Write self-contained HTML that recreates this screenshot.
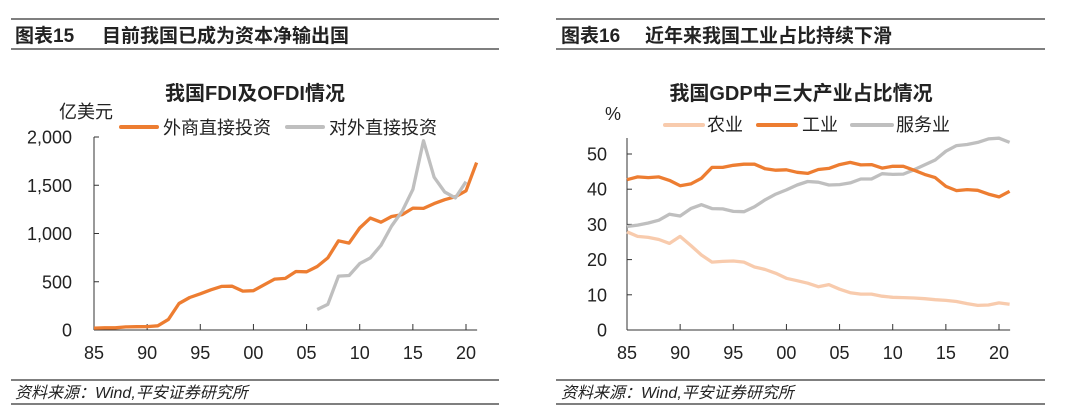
<!DOCTYPE html>
<html><head><meta charset="utf-8">
<style>
body{margin:0;width:1080px;height:417px;background:#fff;overflow:hidden}
svg{display:block}
text{font-family:"Liberation Sans","Noto Sans CJK SC",sans-serif;fill:#222}
</style></head>
<body>
<svg id="s" width="1080" height="417" viewBox="0 0 1080 417">
<g>
<line x1="11" y1="19" x2="499" y2="19" stroke="#555" stroke-width="1.5"/>
<line x1="11" y1="49" x2="499" y2="49" stroke="#555" stroke-width="1.5"/>
<text x="15" y="42" font-size="19" font-weight="bold">图表15</text>
<text x="102" y="42" font-size="19" font-weight="bold">目前我国已成为资本净输出国</text>
<text x="255" y="100" font-size="20" font-weight="bold" text-anchor="middle">我国FDI及OFDI情况</text>
<text x="113" y="118" font-size="18" text-anchor="end">亿美元</text>
<line x1="121" y1="127" x2="157" y2="127" stroke="#ED7D31" stroke-width="4" stroke-linecap="round"/>
<text x="163" y="134" font-size="18">外商直接投资</text>
<line x1="287" y1="127" x2="323" y2="127" stroke="#BFBFBF" stroke-width="4" stroke-linecap="round"/>
<text x="329" y="134" font-size="18">对外直接投资</text>
<g id="lc"></g>
<line x1="11" y1="380" x2="499" y2="380" stroke="#555" stroke-width="1.5"/>
<line x1="11" y1="404" x2="499" y2="404" stroke="#555" stroke-width="1.5"/>
<text x="15" y="398" font-size="16" font-style="italic" fill="#333">资料来源：Wind,平安证券研究所</text>
</g>
<g>
<line x1="556" y1="19" x2="1045" y2="19" stroke="#555" stroke-width="1.5"/>
<line x1="556" y1="49" x2="1045" y2="49" stroke="#555" stroke-width="1.5"/>
<text x="561" y="42" font-size="19" font-weight="bold">图表16</text>
<text x="645" y="42" font-size="19" font-weight="bold">近年来我国工业占比持续下滑</text>
<text x="801" y="100" font-size="20" font-weight="bold" text-anchor="middle">我国GDP中三大产业占比情况</text>
<text x="605" y="120" font-size="18">%</text>
<line x1="665" y1="125" x2="703" y2="125" stroke="#F8CBAD" stroke-width="4" stroke-linecap="round"/>
<text x="707" y="131" font-size="18">农业</text>
<line x1="758" y1="125" x2="796" y2="125" stroke="#ED7D31" stroke-width="4" stroke-linecap="round"/>
<text x="802" y="131" font-size="18">工业</text>
<line x1="852" y1="125" x2="892" y2="125" stroke="#BFBFBF" stroke-width="4" stroke-linecap="round"/>
<text x="896" y="131" font-size="18">服务业</text>
<g id="rc"></g>
<line x1="556" y1="380" x2="1045" y2="380" stroke="#555" stroke-width="1.5"/>
<line x1="556" y1="404" x2="1045" y2="404" stroke="#555" stroke-width="1.5"/>
<text x="561" y="398" font-size="16" font-style="italic" fill="#333">资料来源：Wind,平安证券研究所</text>
</g>
</svg>
<script>
const xTickLabels=["85","90","95","00","05","10","15","20"];
const fdiYears=[1985,1986,1987,1988,1989,1990,1991,1992,1993,1994,1995,1996,1997,1998,1999,2000,2001,2002,2003,2004,2005,2006,2007,2008,2009,2010,2011,2012,2013,2014,2015,2016,2017,2018,2019,2020,2021];
const fdiValues=[19.6,22.4,23.1,31.9,33.9,34.9,43.7,110,275,337,375,417,452,454,403,407,468,527,535,606,603,658,747,924,900,1057,1160,1117,1176,1196,1263,1260,1310,1350,1381,1443,1735];
const ofdiYears=[2006,2007,2008,2009,2010,2011,2012,2013,2014,2015,2016,2017,2018,2019,2020];
const ofdiValues=[212,265,559,565,688,747,878,1078,1231,1457,1962,1583,1430,1369,1537];
const leftYTicks=[0,500,1000,1500,2000];
const leftYTickLabels=["0","500","1,000","1,500","2,000"];
const gdpYears=fdiYears;
const agriShare=[27.9,26.6,26.3,25.7,24.6,26.6,24.0,21.3,19.3,19.5,19.6,19.3,17.9,17.2,16.1,14.7,14.0,13.3,12.3,12.9,11.6,10.6,10.2,10.2,9.6,9.3,9.2,9.1,8.9,8.6,8.4,8.1,7.5,7.0,7.1,7.7,7.3];
const industryShare=[42.7,43.5,43.3,43.5,42.5,41.0,41.5,43.1,46.2,46.2,46.8,47.1,47.1,45.8,45.4,45.5,44.8,44.5,45.6,45.9,47.0,47.6,46.9,47.0,46.0,46.5,46.5,45.4,44.2,43.3,40.8,39.6,39.9,39.7,38.6,37.8,39.4];
const servicesShare=[29.4,29.8,30.4,31.2,32.9,32.4,34.5,35.6,34.5,34.4,33.7,33.6,35.0,37.0,38.6,39.8,41.2,42.2,42.0,41.2,41.3,41.8,42.9,42.9,44.4,44.2,44.3,45.5,46.9,48.3,50.8,52.4,52.7,53.3,54.3,54.5,53.3];
const rightYTicks=[0,10,20,30,40,50];

const NS="http://www.w3.org/2000/svg";
function mk(p,t,a){const e=document.createElementNS(NS,t);for(const k in a)e.setAttribute(k,a[k]);p.appendChild(e);return e;}
function chart(g,x0,y0,yTop,ymax,yAxisTop,ticks,tickLabels,labelX,series,prefix){
  const step=(372)/35;
  const xs=yr=>x0+(yr-1985)*step;
  const ys=v=>y0-(v/ymax)*(y0-yTop);
  const xEnd=xs(2021)+0.5;
  let e=mk(g,'line',{x1:x0,y1:yAxisTop,x2:x0,y2:y0,stroke:'#333','stroke-width':1});
  
  e=mk(g,'line',{x1:x0,y1:y0,x2:xEnd,y2:y0,stroke:'#333','stroke-width':1});
  
  ticks.forEach((v,i)=>{
    const y=ys(v);
    mk(g,'line',{x1:x0,y1:y,x2:x0+5,y2:y,stroke:'#333','stroke-width':1});
    const t=mk(g,'text',{x:labelX,y:y+6.5,'font-size':18,'text-anchor':'end'});
    t.textContent=tickLabels[i];
    
    
  });
  xTickLabels.forEach((l,i)=>{
    const x=xs(1985+5*i);
    mk(g,'line',{x1:x,y1:y0,x2:x,y2:y0-6,stroke:'#333','stroke-width':1});
    const t=mk(g,'text',{x:x,y:y0+29,'font-size':18,'text-anchor':'middle'});
    t.textContent=l;
    
    
  });
  series.forEach(s=>{
    const pts=s.years.map((yr,i)=>xs(yr).toFixed(1)+','+ys(s.vals[i]).toFixed(1)).join(' ');
    const p=mk(g,'polyline',{points:pts,fill:'none',stroke:s.color,'stroke-width':3.3,'stroke-linejoin':'round'});
    
    
  });
}
chart(document.getElementById('lc'),94,330,137,2000,137,leftYTicks,leftYTickLabels,72,[
  {years:fdiYears,vals:fdiValues,color:'#ED7D31',name:'fdi-line'},
  {years:ofdiYears,vals:ofdiValues,color:'#BFBFBF',name:'ofdi-line'}],'left');
chart(document.getElementById('rc'),627,330,154,50,138,rightYTicks,rightYTicks.map(String),607,[
  {years:gdpYears,vals:agriShare,color:'#F8CBAD',name:'agri-line'},
  {years:gdpYears,vals:servicesShare,color:'#BFBFBF',name:'services-line'},
  {years:gdpYears,vals:industryShare,color:'#ED7D31',name:'industry-line'}],'right');
</script>
</body></html>
